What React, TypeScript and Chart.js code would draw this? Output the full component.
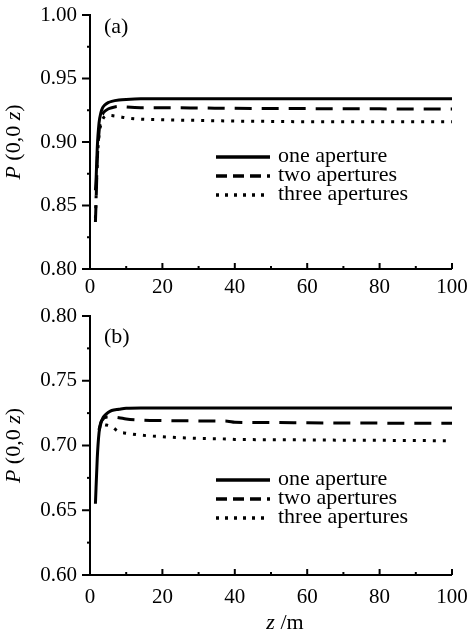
import React, { useEffect, useRef } from "react";
import { Chart, registerables } from "chart.js";

Chart.register(...registerables);

// ---------- data ----------
const seriesLabels = ["one aperture", "two apertures", "three apertures"];

const zA = [1.5, 1.7, 2, 2.5, 3, 3.5, 4, 5, 6, 8, 10, 14, 20, 30, 40, 50, 60, 70, 80, 90, 100];
const oneA = [0.862, 0.872, 0.895, 0.915, 0.923, 0.927, 0.929, 0.931, 0.932, 0.933, 0.9335, 0.934, 0.934, 0.934, 0.934, 0.934, 0.934, 0.934, 0.934, 0.934, 0.934];
const twoA = [0.837, 0.855, 0.885, 0.908, 0.918, 0.922, 0.924, 0.926, 0.927, 0.928, 0.9275, 0.927, 0.927, 0.9268, 0.9265, 0.9264, 0.9263, 0.9262, 0.9261, 0.926, 0.926];
const threeA = [0.84, 0.858, 0.885, 0.905, 0.914, 0.918, 0.92, 0.921, 0.9208, 0.92, 0.919, 0.918, 0.9175, 0.917, 0.9165, 0.9162, 0.916, 0.916, 0.916, 0.916, 0.916];

const zB = [1.5, 2, 2.5, 3, 3.5, 4, 5, 6, 8, 10, 14, 20, 30, 38, 40, 50, 60, 70, 80, 90, 100];
const oneB = [0.655, 0.69, 0.71, 0.717, 0.721, 0.723, 0.7255, 0.727, 0.728, 0.7288, 0.729, 0.729, 0.729, 0.729, 0.729, 0.729, 0.729, 0.729, 0.729, 0.729, 0.729];
const twoB = [null, null, 0.712, 0.718, 0.72, 0.7215, 0.722, 0.722, 0.7215, 0.7205, 0.7197, 0.7193, 0.719, 0.7188, 0.718, 0.7177, 0.7175, 0.7174, 0.7173, 0.7172, 0.7172];
const threeB = [null, null, 0.712, 0.716, 0.7165, 0.716, 0.7155, 0.7145, 0.7105, 0.7095, 0.708, 0.7068, 0.7055, 0.705, 0.7047, 0.7045, 0.7043, 0.7041, 0.704, 0.7038, 0.7037];

const xTicksStep = 20;
const yTitleParts = [
  { t: "P", i: true },
  { t: " (0,0 ", i: false },
  { t: "z", i: true },
  { t: ")", i: false },
];
const xTitleParts = [
  { t: "z", i: true },
  { t: " /m", i: false },
];

const FONT = "'Liberation Serif', 'DejaVu Serif', serif";
const FS = 21;
const FS_BIG = 22;

const decorPlugin = {
  id: "decor",
  afterDraw(chart: any, _args: any, opts: any) {
    const ctx = chart.ctx as CanvasRenderingContext2D;
    const { left, right, top, bottom } = chart.chartArea;
    const xs = chart.scales.x;
    const ys = chart.scales.y;
    ctx.save();
    ctx.strokeStyle = "#000";
    ctx.fillStyle = "#000";
    ctx.lineWidth = 2;
    ctx.setLineDash([]);
    // axis lines
    ctx.beginPath();
    ctx.moveTo(left, top - 1);
    ctx.lineTo(left, bottom);
    ctx.lineTo(right, bottom);
    ctx.stroke();
    // y ticks (outward)
    const yt = ys.ticks.map((t: any) => t.value);
    yt.forEach((v: number, i: number) => {
      const py = ys.getPixelForValue(v);
      ctx.beginPath();
      ctx.moveTo(left - 8, py);
      ctx.lineTo(left, py);
      ctx.stroke();
      if (i < yt.length - 1) {
        const pm = ys.getPixelForValue((v + yt[i + 1]) / 2);
        ctx.beginPath();
        ctx.moveTo(left - 3, pm);
        ctx.lineTo(left, pm);
        ctx.stroke();
      }
    });
    // x ticks (inward)
    const xt = xs.ticks.map((t: any) => t.value);
    xt.forEach((v: number, i: number) => {
      const px = xs.getPixelForValue(v);
      ctx.beginPath();
      ctx.moveTo(px, bottom);
      ctx.lineTo(px, bottom - 6);
      ctx.stroke();
      if (i < xt.length - 1) {
        const pm = xs.getPixelForValue((v + xt[i + 1]) / 2);
        ctx.beginPath();
        ctx.moveTo(pm, bottom);
        ctx.lineTo(pm, bottom - 3);
        ctx.stroke();
      }
    });

    const drawParts = (parts: { t: string; i: boolean }[], cx: number, cy: number, rot: number) => {
      ctx.save();
      ctx.translate(cx, cy);
      ctx.rotate(rot);
      ctx.textBaseline = "middle";
      ctx.textAlign = "left";
      let total = 0;
      const w = parts.map((p) => {
        ctx.font = `${p.i ? "italic " : ""}${FS_BIG}px ${FONT}`;
        const m = ctx.measureText(p.t).width;
        total += m;
        return m;
      });
      let x = -total / 2;
      parts.forEach((p, k) => {
        ctx.font = `${p.i ? "italic " : ""}${FS_BIG}px ${FONT}`;
        ctx.fillText(p.t, x, 0);
        x += w[k];
      });
      ctx.restore();
    };

    // y title
    drawParts(yTitleParts, 14, (top + bottom) / 2, -Math.PI / 2);
    // x title
    if (opts.xTitle) drawParts(xTitleParts, (left + right) / 2 + 14, opts.xTitleY, 0);

    // panel label
    ctx.font = `${FS_BIG}px ${FONT}`;
    ctx.textBaseline = "middle";
    ctx.textAlign = "left";
    ctx.fillText(opts.panel, left + 14, top + opts.panelDy);

    // legend
    const dashes = [[], [11, 6], [3, 6]];
    chart.data.datasets.forEach((ds: any, k: number) => {
      const ly = top + opts.legendDy + k * 19;
      ctx.save();
      ctx.lineWidth = 3.5;
      ctx.lineCap = "butt";
      ctx.setLineDash(dashes[k]);
      ctx.beginPath();
      ctx.moveTo(left + 126, ly);
      ctx.lineTo(left + 180, ly);
      ctx.stroke();
      ctx.restore();
      ctx.font = `${FS_BIG}px ${FONT}`;
      ctx.textBaseline = "middle";
      ctx.fillText(ds.label, left + 188, ly - 1);
    });
    ctx.restore();
  },
};

function makeConfig(
  z: number[],
  s: (number | null)[][],
  ymin: number,
  ymax: number,
  pad: any,
  xAxisH: number,
  xPad: number,
  decor: any
): any {
  const dashes = [[], [17, 10], [3, 7]];
  return {
    type: "line",
    data: {
      datasets: s.map((vals, k) => ({
        label: seriesLabels[k],
        data: z.map((zz, i) => ({ x: zz, y: vals[i] })),
        borderColor: "#000",
        borderWidth: 3,
        borderDash: dashes[k],
        pointRadius: 0,
        fill: false,
        cubicInterpolationMode: "monotone",
        spanGaps: false,
      })),
    },
    options: {
      responsive: false,
      animation: false,
      layout: { padding: pad },
      plugins: {
        legend: { display: false },
        tooltip: { enabled: false },
        decor,
      },
      scales: {
        x: {
          type: "linear",
          min: 0,
          max: 100,
          grid: { display: false, drawTicks: false },
          border: { display: false },
          ticks: {
            stepSize: xTicksStep,
            padding: xPad,
            color: "#000",
            font: { family: FONT, size: FS },
            maxRotation: 0,
          },
          afterFit: (sc: any) => {
            sc.height = xAxisH;
            sc.paddingLeft = 0;
            sc.paddingRight = 0;
          },
        },
        y: {
          type: "linear",
          min: ymin,
          max: ymax,
          grid: { display: false, drawTicks: false },
          border: { display: false },
          ticks: {
            stepSize: 0.05,
            padding: 13,
            color: "#000",
            font: { family: FONT, size: FS },
            callback: (v: number) => v.toFixed(2),
          },
          afterFit: (sc: any) => {
            sc.width = 90;
            sc.paddingTop = 0;
            sc.paddingBottom = 0;
          },
        },
      },
    },
    plugins: [decorPlugin],
  };
}

export default function App() {
  const refA = useRef<HTMLCanvasElement>(null);
  const refB = useRef<HTMLCanvasElement>(null);
  useEffect(() => {
    const cA = new Chart(
      refA.current!,
      makeConfig(zA, [oneA, twoA, threeA], 0.8, 1.0, { top: 15, right: 17, left: 0, bottom: 0 }, 31, 6, {
        panel: "(a)",
        panelDy: 12,
        legendDy: 142,
        xTitle: false,
      })
    );
    const cB = new Chart(
      refB.current!,
      makeConfig(zB, [oneB, twoB, threeB], 0.6, 0.8, { top: 16, right: 17, left: 0, bottom: 0 }, 58, 10, {
        panel: "(b)",
        panelDy: 21,
        legendDy: 164,
        xTitle: true,
        xTitleY: 323,
      })
    );
    return () => {
      cA.destroy();
      cB.destroy();
    };
  }, []);
  return (
    <div style={{ position: "fixed", left: 0, top: 0, width: 469, height: 633, background: "#fff" }}>
      <canvas ref={refA} width={469} height={300} style={{ position: "absolute", left: 0, top: 0 }} />
      <canvas ref={refB} width={469} height={333} style={{ position: "absolute", left: 0, top: 300 }} />
    </div>
  );
}
